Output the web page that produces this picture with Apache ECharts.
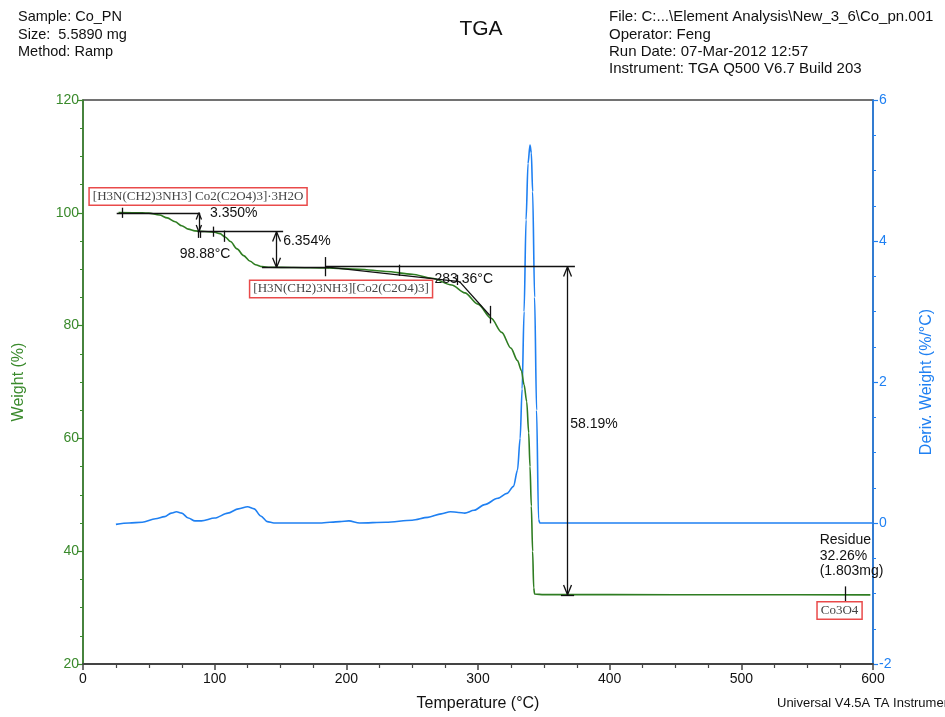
<!DOCTYPE html>
<html>
<head>
<meta charset="utf-8">
<title>TGA</title>
<script src="https://cdn.jsdelivr.net/npm/echarts@6/dist/echarts.min.js"></script>
<style>
  html, body { margin: 0; padding: 0; background: #fff; }
  #chart { width: 945px; height: 717px; }
</style>
</head>
<body>
<div id="chart"></div>
<script>
// Weight curve (left axis, %)
const weightTemp = [27, 45, 50, 58, 64, 70, 75, 80, 85, 90, 95, 100, 104, 108, 112, 117, 122, 127, 131, 136, 142,
  160, 185, 210, 230, 250, 265, 280, 290, 300, 310, 318, 325, 330, 333, 335, 337, 338.5, 339.5, 340.5, 341.5, 342.3, 343,
  350, 400, 500, 598];
const weightPct = [100.05, 100.0, 99.95, 99.6, 99.1, 98.4, 97.7, 97.1, 96.8, 96.7, 96.65, 96.55, 96.3, 95.7, 94.9, 93.6, 92.4, 91.4, 90.8, 90.45, 90.35,
  90.3, 90.2, 90.0, 89.6, 89.1, 88.4, 87.2, 85.8, 83.8, 81.3, 78.8, 76.0, 73.8, 72.0, 69.5, 66.5, 61.0, 55.0, 48.0, 40.0, 33.5, 32.4,
  32.3, 32.3, 32.28, 32.26];

// Derivative weight curve (right axis, %/°C)
const derivTemp = [25, 35, 45, 55, 62, 67, 71, 75, 80, 85, 90, 100, 110, 118, 125, 130, 135, 140, 145,
  180, 195, 202, 210, 230, 250, 262, 272, 279, 285, 290, 297, 305, 315, 322, 327, 330, 332, 333.5, 335, 336.5,
  338, 339.5, 340.5, 341.5, 343, 344.5, 346, 347, 400, 500, 600];
const derivVal = [-0.02, 0.0, 0.01, 0.06, 0.09, 0.14, 0.16, 0.14, 0.07, 0.03, 0.03, 0.07, 0.14, 0.20, 0.23, 0.20, 0.10, 0.02, 0.0,
  0.0, 0.02, 0.03, 0.0, 0.01, 0.04, 0.08, 0.13, 0.16, 0.15, 0.14, 0.18, 0.26, 0.35, 0.42, 0.52, 0.75, 1.2, 1.9, 3.0, 4.3,
  5.1, 5.36, 5.25, 4.7, 3.2, 1.6, 0.05, 0.0, 0.0, 0.0, 0.0];

// Step analyses: temperature of the arrow, upper plateau, loss
const stepTemps = [88, 147, 368];
const stepTops = [100.0, 96.65, 90.45];
const stepLoss = [3.350, 6.354, 58.19];
const stepLabels = ['3.350%', '6.354%', '58.19%'];

// Inflection / onset / residue results
const inflectionTemp = 98.88;
const onsetTemp = 283.36;
const residuePct = 32.26;
const residueMg = 1.803;
const residueTemp = 579;

// Phase labels
const phaseNames = ['[H3N(CH2)3NH3] Co2(C2O4)3]\u00b73H2O', '[H3N(CH2)3NH3][Co2(C2O4)3]', 'Co3O4'];
const phaseAt = [[87.4, 102.9], [196, 86.5], [574.6, 29.5]];

// Axis tick labels
const xTicks = [0, 100, 200, 300, 400, 500, 600];
const weightTicks = [20, 40, 60, 80, 100, 120];
const derivTicks = [-2, 0, 2, 4, 6];

const GREEN = '#2f7d22';
const GREEN_TXT = '#3a8a2c';
const BLUE = '#1f80f2';
const INK = '#111';
const FONT = '"Liberation Sans", Arial, sans-serif';

const zip = (a, b) => a.map((v, i) => [v, b[i]]);

const seg = (x1, y1, x2, y2) => [{ coord: [x1, y1] }, { coord: [x2, y2] }];
// open arrowhead whose tip sits at (t, w); up = tip pointing to higher weight
const head = (t, w, up, len, half) => {
  const l = (len || 1.75) * (up ? -1 : 1);
  const h = half || 3;
  return [seg(t - h, w + l, t, w), seg(t + h, w + l, t, w)];
};
const doubleArrow = (t, top, bottom, len, half) =>
  [seg(t, top, t, bottom)].concat(head(t, top, true, len, half), head(t, bottom, false, len, half));

// Step 1
const s1 = stepTops[0], s1b = stepTops[0] - stepLoss[0];
// Step 2
const s2 = stepTops[1], s2b = stepTops[1] - stepLoss[1];
// Step 3
const s3 = stepTops[2], s3b = stepTops[2] - stepLoss[2];

const annotationLines = [].concat(
  [
    seg(25.6, s1, 88.9, s1),
    seg(30, s1 + 0.9, 30, s1 - 0.9),
    seg(stepTemps[0] + 1.4, s1b, stepTemps[0] + 1.4, s1b - 1.1),
    seg(stepTemps[0] - 0.6, s1b, stepTemps[0] - 0.6, s1b - 1.1),
    seg(87, s1b, 152, s1b),
    seg(inflectionTemp, s1b + 0.9, inflectionTemp, s1b - 0.9),
    seg(107, s1b + 0.2, 107, s1b - 1.8),
    seg(136, s2b, 187, s2b),
    seg(184, s3 + 1.7, 184, s3 - 1.7),
    seg(184, s3, stepTemps[2] + 5.6, s3),
    seg(184, 90.4, 286, 87.8),
    seg(286, 87.8, 309, 81.8),
    seg(240, 90.8, 240, 88.8),
    seg(onsetTemp + 0.6, 89.0, onsetTemp + 0.6, 87.2),
    seg(309, 83.5, 309, 80.4),
    seg(stepTemps[2] - 5, s3b, stepTemps[2] + 5, s3b),
    seg(residueTemp, residuePct + 1.5, residueTemp, residuePct - 1.5)
  ],
  doubleArrow(stepTemps[0], s1, s1b, 1.2, 2),
  doubleArrow(stepTemps[1], s2, s2b),
  doubleArrow(stepTemps[2], s3, s3b)
);

const chart = echarts.init(document.getElementById('chart'), null, { renderer: 'canvas' });

const axisLabelBase = { fontFamily: FONT, fontSize: 14 };

chart.setOption({
  animation: false,
  backgroundColor: '#fff',
  title: {
    text: 'TGA', left: 476, top: 14, textAlign: 'center',
    textStyle: { fontFamily: FONT, fontSize: 21, fontWeight: 'normal', color: INK }
  },
  grid: { left: 83, right: 72, top: 100, bottom: 53, show: true, borderColor: '#444', borderWidth: 1.5, backgroundColor: 'transparent' },
  xAxis: {
    type: 'value', min: xTicks[0], max: xTicks[xTicks.length - 1], interval: 100,
    name: 'Temperature (\u00b0C)', nameLocation: 'middle', nameGap: 32,
    nameTextStyle: { fontFamily: FONT, fontSize: 16, color: INK },
    axisLine: { onZero: false, lineStyle: { color: '#444', width: 2 } },
    axisTick: { length: 6, lineStyle: { color: '#444', width: 1.5 } },
    minorTick: { show: true, splitNumber: 4, length: 4, lineStyle: { color: '#444', width: 1.2 } },
    axisLabel: Object.assign({ color: INK, margin: 8 }, axisLabelBase),
    splitLine: { show: false }
  },
  yAxis: [
    {
      type: 'value', position: 'left', min: weightTicks[0], max: weightTicks[weightTicks.length - 1], interval: 20,
      name: 'Weight (%)', nameLocation: 'middle', nameGap: 56, nameRotate: 90,
      nameTextStyle: { fontFamily: FONT, fontSize: 16, color: GREEN_TXT },
      axisLine: { show: true, onZero: false, lineStyle: { color: GREEN_TXT, width: 1.5 } },
      axisTick: { show: true, length: 6, lineStyle: { color: GREEN_TXT, width: 1.2 } },
      minorTick: { show: true, splitNumber: 4, length: 3, lineStyle: { color: GREEN_TXT, width: 1 } },
      axisLabel: Object.assign({ color: GREEN_TXT, margin: 4 }, axisLabelBase),
      splitLine: { show: false }
    },
    {
      type: 'value', position: 'right', min: derivTicks[0], max: derivTicks[derivTicks.length - 1], interval: 2,
      name: 'Deriv. Weight (%/\u00b0C)', nameLocation: 'middle', nameGap: 46, nameRotate: 90,
      nameTextStyle: { fontFamily: FONT, fontSize: 16, color: BLUE },
      axisLine: { show: true, onZero: false, lineStyle: { color: BLUE, width: 1.5 } },
      axisTick: { show: true, length: 5, lineStyle: { color: BLUE, width: 1.2 } },
      minorTick: { show: true, splitNumber: 4, length: 3, lineStyle: { color: BLUE, width: 1 } },
      axisLabel: Object.assign({ color: BLUE, margin: 6 }, axisLabelBase),
      splitLine: { show: false }
    }
  ],
  series: [
    {
      name: 'Deriv. Weight', type: 'line', yAxisIndex: 1, data: zip(derivTemp, derivVal),
      showSymbol: false, smooth: 0.3, smoothMonotone: 'x',
      lineStyle: { color: BLUE, width: 1.6 }, z: 3
    },
    {
      name: 'Weight', type: 'line', yAxisIndex: 0, data: zip(weightTemp, weightPct),
      showSymbol: false, smooth: 0.3, smoothMonotone: 'x',
      lineStyle: { color: GREEN, width: 1.6 }, z: 4
    },
    {
      name: 'Analysis', type: 'line', yAxisIndex: 0, data: [], z: 5,
      markLine: {
        silent: true, animation: false,
        symbol: ['none', 'none'],
        label: { show: false },
        lineStyle: { color: INK, width: 1.3, type: 'solid' },
        emphasis: { disabled: true },
        data: annotationLines
      }
    }
  ]
});

// Texts placed in data coordinates
const px = (t, w) => chart.convertToPixel({ xAxisIndex: 0, yAxisIndex: 0 }, [t, w]);
const note = (t, w, text, align) => {
  const p = px(t, w);
  return {
    type: 'text', x: p[0], y: p[1], z: 20,
    style: { text, fill: INK, font: '14px ' + FONT, align: align || 'left', verticalAlign: 'middle' }
  };
};
const phaseBox = (i) => {
  const p = px(phaseAt[i][0], phaseAt[i][1]);
  return {
    type: 'text', x: p[0], y: p[1], z: 20,
    style: {
      text: phaseNames[i], fill: '#444', font: '13px "Liberation Serif", "Times New Roman", serif',
      align: 'center', verticalAlign: 'middle',
      backgroundColor: '#fff', borderColor: '#e94a4a', borderWidth: 1.5, padding: [2, 3, 1, 3]
    }
  };
};

const header = (x, y, text, size) => ({
  type: 'text', x, y,
  style: { text, fill: INK, font: (size || 14.5) + 'px ' + FONT, align: 'left', verticalAlign: 'middle' }
});

chart.setOption({
  graphic: [
    header(18, 17, 'Sample: Co_PN'),
    header(18, 35, 'Size:  5.5890 mg'),
    header(18, 52, 'Method: Ramp'),
    header(609, 17, 'File: C:...\\Element Analysis\\New_3_6\\Co_pn.001', 15),
    header(609, 35, 'Operator: Feng', 15),
    header(609, 52, 'Run Date: 07-Mar-2012 12:57', 15),
    header(609, 69, 'Instrument: TGA Q500 V6.7 Build 203', 15),
    header(777, 703, 'Universal V4.5A TA Instruments', 13),
    note(stepTemps[0] + 8.5, 99.9, stepLabels[0]),
    note(92.7, 92.7, inflectionTemp.toFixed(2) + '\u00b0C', 'center'),
    note(stepTemps[1] + 5, 95.0, stepLabels[1]),
    note(267, 88.3, onsetTemp.toFixed(2) + '\u00b0C'),
    note(stepTemps[2] + 2, 62.6, stepLabels[2]),
    note(559.5, 42.0, 'Residue'),
    note(559.5, 39.2, residuePct.toFixed(2) + '%'),
    note(559.5, 36.4, '(' + residueMg.toFixed(3) + 'mg)'),
    phaseBox(0), phaseBox(1), phaseBox(2)
  ]
});
</script>
</body>
</html>
